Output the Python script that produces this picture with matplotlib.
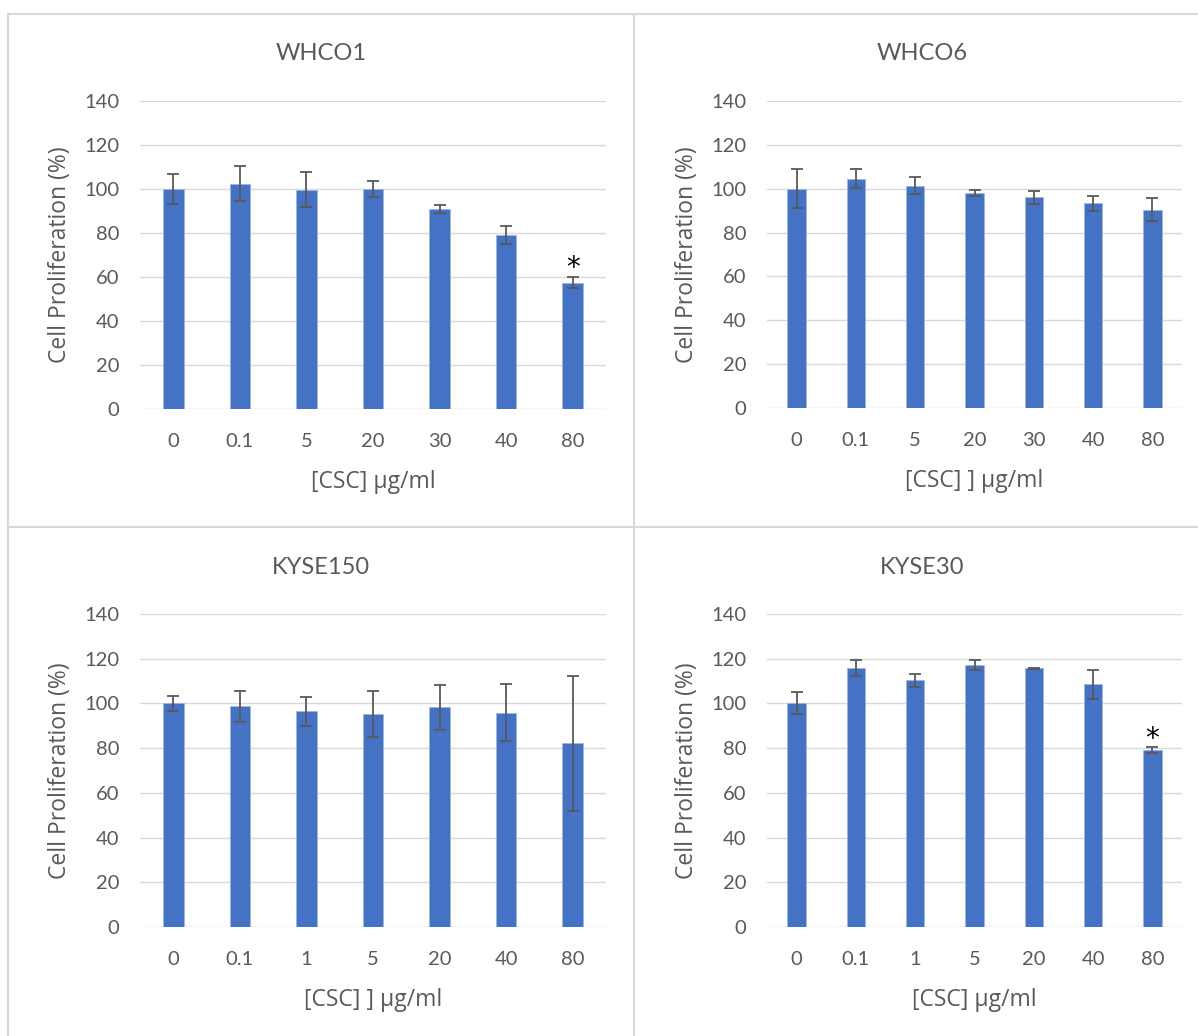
import numpy as np
import matplotlib
matplotlib.use("Agg")
from matplotlib import pyplot as plt
from matplotlib.lines import Line2D

plt.rcParams['font.family'] = ['Lato', 'DejaVu Sans']

# data: cell proliferation (% of control), mean and error per dose
doses_whco = ["0", "0.1", "5", "20", "30", "40", "80"]
doses_kyse = ["0", "0.1", "1", "5", "20", "40", "80"]

whco1_mean = [100, 102.5, 99.6, 100, 91.1, 79, 57.5]
whco1_err = [7, 8, 8, 3.8, 1.8, 4.1, 2.5]

whco6_mean = [100, 104.6, 101.4, 97.9, 96, 93.4, 90.5]
whco6_err = [8.8, 4.4, 4, 1.4, 3, 3.5, 5.4]

kyse150_mean = [100, 98.7, 96.4, 95.3, 98.3, 95.8, 82.2]
kyse150_err = [3.2, 6.9, 6.4, 10.1, 10, 12.7, 30.1]

kyse30_mean = [100, 115.7, 110.3, 117.2, 115.7, 108.5, 79.3]
kyse30_err = [4.9, 3.6, 3, 2.1, 0.3, 6.6, 1.3]

# significance markers: (bar index, baseline of the star)
whco1_star = (6, 60.5)
kyse30_star = (6, 80.5)

W, H = 1198, 1036
BAR = '#4472C4'
TXT = '#595959'
GRID = '#d9d9d9'
LABEL_FONT = ['Open Sans', 'DejaVu Sans']

fig = plt.figure(figsize=(W / 100, H / 100), dpi=100)


def fx(px):
    return px / W


def fy(py):
    return 1 - py / H


# panel frames
for xs, ys in [((8, 1198), (14, 14)), ((8, 8), (14, 1036)),
               ((634, 634), (14, 1036)), ((8, 1198), (527, 527))]:
    fig.add_artist(Line2D([fx(xs[0]), fx(xs[1])], [fy(ys[0]), fy(ys[1])],
                          color=GRID, lw=1.5, transform=fig.transFigure))


def panel(rect, cats, mean, err, title, xlabel, title_x, title_y, ylab_x, star=None):
    ax = fig.add_axes(rect)
    x = np.arange(len(cats))
    ax.bar(x, mean, width=0.31, color=BAR, edgecolor='#9fb6e0', linewidth=0.6, zorder=3)
    ax.errorbar(x, mean, yerr=err, fmt='none', ecolor=TXT, elinewidth=1.3,
                capsize=4.3, capthick=1.3, zorder=4)
    ax.set_xlim(-0.5, len(cats) - 0.5)
    ax.set_ylim(0, 140)
    ax.set_yticks(np.arange(0, 141, 20))
    ax.set_xticks(x)
    ax.set_xticklabels(cats)
    ax.grid(axis='y', color=GRID, lw=1.0, zorder=0)
    for s in ax.spines.values():
        s.set_visible(False)
    ax.tick_params(length=0, labelsize=14.5, labelcolor=TXT)
    ax.tick_params(axis='y', pad=15)
    ax.tick_params(axis='x', pad=17)
    ax.set_xlabel(xlabel, fontsize=16.5, color=TXT, labelpad=15, family=LABEL_FONT)
    fig.text(fx(ylab_x), rect[1] + rect[3] / 2, "Cell Proliferation (%)", rotation=90,
             ha='center', va='center', fontsize=16.5, color=TXT, family=LABEL_FONT)
    fig.text(fx(title_x), fy(title_y), title, ha='center', va='center',
             fontsize=17, color=TXT)
    if star is not None:
        ax.text(star[0], star[1], "*", ha='center', va='baseline', fontsize=20,
                color='black', family='DejaVu Sans', zorder=5)
    return ax


panel([fx(140), fy(409), fx(466), fy(101) - fy(409)], doses_whco, whco1_mean, whco1_err,
      "WHCO1", "[CSC] µg/ml", 321, 53, 60, whco1_star)
panel([fx(767), fy(408), fx(415), fy(101) - fy(408)], doses_whco, whco6_mean, whco6_err,
      "WHCO6", "[CSC] ] µg/ml", 922, 53, 687)
panel([fx(140), fy(927), fx(466), fy(614) - fy(927)], doses_kyse, kyse150_mean, kyse150_err,
      "KYSE150", "[CSC] ] µg/ml", 321, 567, 60)
panel([fx(767), fy(927), fx(415), fy(614) - fy(927)], doses_kyse, kyse30_mean, kyse30_err,
      "KYSE30", "[CSC] µg/ml", 922, 567, 687, kyse30_star)

fig.savefig("out.png", dpi=100, facecolor='white')
